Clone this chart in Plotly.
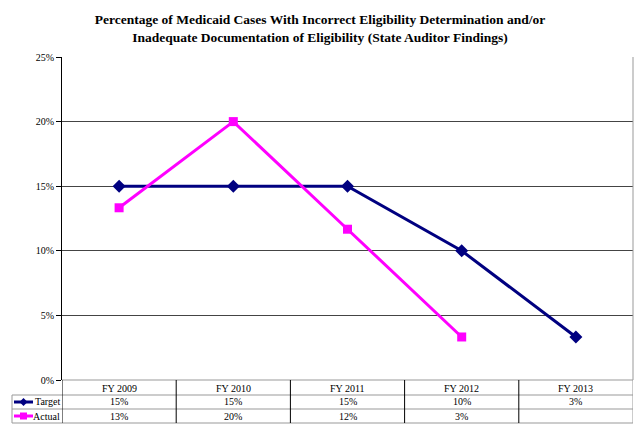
import plotly.graph_objects as go

categories = ["FY 2009", "FY 2010", "FY 2011", "FY 2012", "FY 2013"]
target = [15, 15, 15, 10, 3.33]
actual = [13.33, 20, 11.67, 3.33, None]
y_ticks = [0, 5, 10, 15, 20, 25]
title_text = ("Percentage of Medicaid Cases With Incorrect Eligibility Determination and/or<br>"
              "Inadequate Documentation of Eligibility (State Auditor Findings)")

W, H = 640, 435
L, R, T, B = 62, 7, 57, 55
PW, PH = W - L - R, H - T - B

def px_x(p):
    return (p - L) / PW

def px_y(p):
    return (H - B - p) / PH

SERIF = "Liberation Serif"
NAVY = "#000080"
MAG = "#FF00FF"
FS = 10

xs = list(range(len(categories)))

fig = go.Figure()
fig.add_trace(go.Scatter(x=xs, y=target, mode="lines+markers", name="Target",
                         line=dict(color=NAVY, width=3),
                         marker=dict(symbol="diamond", size=10, color=NAVY)))
fig.add_trace(go.Scatter(x=xs, y=actual, mode="lines+markers", name="Actual",
                         line=dict(color=MAG, width=3),
                         marker=dict(symbol="square", size=9, color=MAG)))

shapes = []
annotations = []

# table grid
row_lines = [380, 395, 409, 423]
for i, yp in enumerate(row_lines):
    x0 = px_x(62) if i == 0 else px_x(12)
    shapes.append(dict(type="line", xref="paper", yref="paper", x0=x0, x1=1,
                       y0=px_y(yp), y1=px_y(yp), line=dict(color="#999", width=1)))
for k in range(len(categories) + 1):
    xb = k - 0.5
    color = "#000" if k < len(categories) else "#999"
    shapes.append(dict(type="line", xref="x", yref="paper", x0=xb, x1=xb,
                       y0=px_y(423), y1=px_y(380), line=dict(color=color, width=1)))
# right border of plot
shapes.append(dict(type="line", xref="paper", yref="paper", x0=1, x1=1,
                   y0=px_y(380), y1=1, line=dict(color="#999", width=1)))
# legend box left border
shapes.append(dict(type="line", xref="paper", yref="paper", x0=px_x(12), x1=px_x(12),
                   y0=px_y(423), y1=px_y(395), line=dict(color="#999", width=1)))

# legend keys
for yp, col, sym in [(402, NAVY, "diamond"), (416, MAG, "square")]:
    shapes.append(dict(type="line", xref="paper", yref="paper", x0=px_x(14), x1=px_x(33),
                       y0=px_y(yp), y1=px_y(yp), line=dict(color=col, width=3)))
    if sym == "diamond":
        path = (f"M {px_x(23.5-4)} {px_y(yp)} L {px_x(23.5)} {px_y(yp-4)} "
                f"L {px_x(23.5+4)} {px_y(yp)} L {px_x(23.5)} {px_y(yp+4)} Z")
        shapes.append(dict(type="path", xref="paper", yref="paper", path=path,
                           fillcolor=col, line=dict(color=col, width=0)))
    else:
        shapes.append(dict(type="rect", xref="paper", yref="paper",
                           x0=px_x(20), x1=px_x(27), y0=px_y(yp + 3.5), y1=px_y(yp - 3.5),
                           fillcolor=col, line=dict(color=col, width=0)))

for label, yp in [("Target", 402), ("Actual", 416)]:
    annotations.append(dict(text=label, xref="paper", yref="paper", x=px_x(62), y=px_y(yp),
                            xanchor="right", yanchor="middle", showarrow=False,
                            font=dict(family=SERIF, size=FS, color="#000")))

for i, c in enumerate(categories):
    annotations.append(dict(text=c, xref="x", yref="paper", x=i, y=px_y(388),
                            showarrow=False, yanchor="middle",
                            font=dict(family=SERIF, size=FS, color="#000")))
    t = target[i]
    a = actual[i]
    annotations.append(dict(text="" if t is None else f"{round(t)}%", xref="x", yref="paper",
                            x=i, y=px_y(402), showarrow=False, yanchor="middle",
                            font=dict(family=SERIF, size=FS, color="#000")))
    annotations.append(dict(text="" if a is None else f"{round(a)}%", xref="x", yref="paper",
                            x=i, y=px_y(416), showarrow=False, yanchor="middle",
                            font=dict(family=SERIF, size=FS, color="#000")))

fig.update_layout(
    width=W, height=H,
    margin=dict(l=L, r=R, t=T, b=B),
    paper_bgcolor="white", plot_bgcolor="white",
    showlegend=False,
    title=dict(text=title_text, x=0.5, xref="container", xanchor="center",
               y=1 - 24 / H, yref="container", yanchor="middle",
               font=dict(family=SERIF, size=13.5, color="#000", weight="bold")),
    xaxis=dict(range=[-0.5, len(categories) - 0.5], showticklabels=False,
               showgrid=False, zeroline=False, showline=False, fixedrange=True),
    yaxis=dict(range=[0, 25], tickvals=y_ticks, ticktext=[f"{v}%" for v in y_ticks],
               showgrid=True, gridcolor="#444", gridwidth=1, zeroline=False,
               showline=True, linecolor="#000", linewidth=1,
               ticks="outside", ticklen=5, tickcolor="#000",
               tickfont=dict(family=SERIF, size=FS, color="#000"), fixedrange=True),
    shapes=shapes, annotations=annotations,
)

fig.write_html("out.html", config={"displayModeBar": False},
               post_script="document.body.style.margin='0';")
